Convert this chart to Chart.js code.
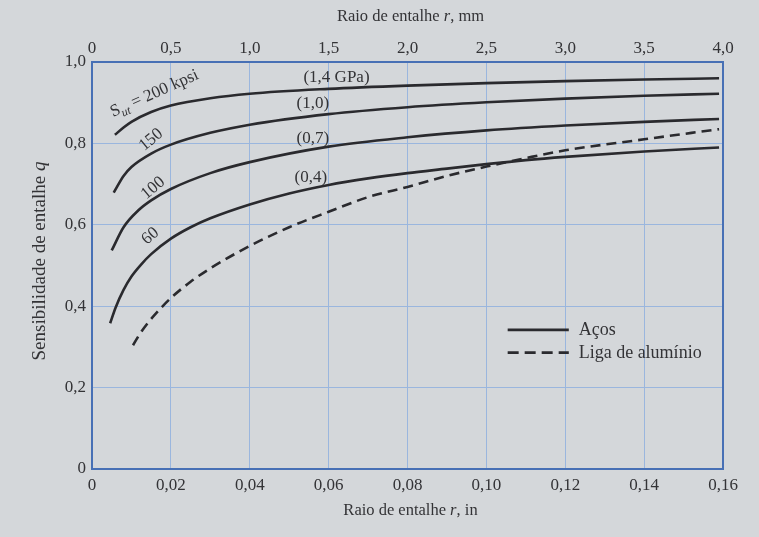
<!DOCTYPE html>
<html>
<head>
<meta charset="utf-8">
<script src="https://cdn.jsdelivr.net/npm/chart.js@4"></script>
<style>
  html, body { margin: 0; padding: 0; background: #d4d7da; }
  #wrap { width: 759px; height: 537px; position: relative; }
</style>
</head>
<body>
<div id="wrap"><canvas id="notchChart"></canvas></div>
<script>
// notch radius r (in) and notch sensitivity q
const r200 = [0.0058, 0.008, 0.010, 0.015, 0.020, 0.030, 0.040, 0.060, 0.080, 0.100, 0.120, 0.140, 0.159];
const q200 = [0.821, 0.839, 0.853, 0.877, 0.893, 0.911, 0.922, 0.934, 0.942, 0.948, 0.953, 0.957, 0.960];

const r150 = [0.0055, 0.008, 0.010, 0.015, 0.020, 0.030, 0.040, 0.060, 0.080, 0.100, 0.120, 0.140, 0.159];
const q150 = [0.679, 0.720, 0.742, 0.775, 0.797, 0.826, 0.846, 0.872, 0.889, 0.901, 0.910, 0.917, 0.922];

const r100 = [0.0050, 0.008, 0.0117, 0.015, 0.020, 0.030, 0.040, 0.060, 0.080, 0.100, 0.120, 0.140, 0.159];
const q100 = [0.537, 0.594, 0.635, 0.660, 0.688, 0.727, 0.754, 0.792, 0.815, 0.832, 0.844, 0.853, 0.860];

const r60 = [0.0046, 0.006, 0.008, 0.010, 0.0125, 0.015, 0.020, 0.025, 0.030, 0.040, 0.050, 0.060, 0.070, 0.080, 0.090, 0.100, 0.110, 0.120, 0.140, 0.159];
const q60 = [0.358, 0.397, 0.440, 0.473, 0.503, 0.528, 0.566, 0.594, 0.616, 0.650, 0.677, 0.698, 0.714, 0.727, 0.738, 0.749, 0.759, 0.767, 0.780, 0.790];

const rAl = [0.0104, 0.012, 0.014, 0.016, 0.020, 0.025, 0.030, 0.040, 0.050, 0.060, 0.070, 0.080, 0.090, 0.100, 0.110, 0.120, 0.140, 0.159];
const qAl = [0.304, 0.330, 0.357, 0.380, 0.420, 0.460, 0.493, 0.548, 0.594, 0.632, 0.668, 0.693, 0.720, 0.743, 0.764, 0.783, 0.810, 0.835];

const inTickLabels = ['0', '0,02', '0,04', '0,06', '0,08', '0,10', '0,12', '0,14', '0,16'];
const mmTickLabels = ['0', '0,5', '1,0', '1,5', '2,0', '2,5', '3,0', '3,5', '4,0'];
const qTickLabels = ['0', '0,2', '0,4', '0,6', '0,8', '1,0'];

const toPoints = (xs, ys) => xs.map((x, i) => ({ x: x, y: ys[i] }));

const INK = '#2a2a2e';
const TEXT = '#333336';
const GRID = '#9ab6de';
const FRAME = '#4770b5';
const SERIF = '"Liberation Serif", "DejaVu Serif", serif';

function curve(label, xs, ys, dashed) {
  return {
    label: label,
    data: toPoints(xs, ys),
    showLine: true,
    borderColor: INK,
    borderWidth: 2.6,
    borderDash: dashed ? [10, 6] : [],
    pointRadius: 0,
    cubicInterpolationMode: 'monotone',
    fill: false
  };
}

// text drawn on the plot: curve labels, legend, axis titles
const notes = {
  id: 'notes',
  afterDraw(chart) {
    const c = chart.ctx;
    const xs = chart.scales.x, ys = chart.scales.y;
    const px = v => xs.getPixelForValue(v);
    const py = v => ys.getPixelForValue(v);
    const a = chart.chartArea;

    // frame
    c.save();
    c.strokeStyle = FRAME;
    c.lineWidth = 2;
    c.strokeRect(a.left, a.top, a.right - a.left, a.bottom - a.top);
    c.restore();

    c.save();
    c.fillStyle = TEXT;
    c.textBaseline = 'alphabetic';

    // S_ut = 200 kpsi, rotated
    c.save();
    c.translate(px(0.0053), py(0.865));
    c.rotate(-24 * Math.PI / 180);
    c.font = '17px ' + SERIF;
    c.textAlign = 'left';
    c.fillText('S', 0, 0);
    let w = c.measureText('S').width;
    c.font = 'italic 12px ' + SERIF;
    c.fillText('ut', w, 4);
    w += c.measureText('ut').width;
    c.font = '17px ' + SERIF;
    c.fillText(' = 200 kpsi', w, 0);
    c.restore();

    // other strength labels on the curves
    const rotLabels = [['150', 0.0150, 0.809], ['100', 0.0155, 0.690], ['60', 0.0148, 0.572]];
    rotLabels.forEach(([t, x, y]) => {
      c.save();
      c.translate(px(x), py(y));
      c.rotate(-40 * Math.PI / 180);
      c.font = '17px ' + SERIF;
      c.textAlign = 'center';
      c.textBaseline = 'middle';
      c.fillText(t, 0, 0);
      c.restore();
    });

    const gpa = [['(1,4 GPa)', 0.062, 0.962], ['(1,0)', 0.056, 0.897], ['(0,7)', 0.056, 0.812], ['(0,4)', 0.0555, 0.717]];
    c.font = '17px ' + SERIF;
    c.textAlign = 'center';
    c.textBaseline = 'middle';
    gpa.forEach(([t, x, y]) => c.fillText(t, px(x), py(y)));

    // legend
    const lx0 = px(0.1054), lx1 = px(0.1209), tx = px(0.1234);
    c.strokeStyle = INK;
    c.lineWidth = 2.8;
    c.beginPath(); c.moveTo(lx0, py(0.342)); c.lineTo(lx1, py(0.342)); c.stroke();
    c.setLineDash([11, 6]);
    c.beginPath(); c.moveTo(lx0, py(0.286)); c.lineTo(lx1, py(0.286)); c.stroke();
    c.setLineDash([]);
    c.textAlign = 'left';
    c.font = '18px ' + SERIF;
    c.fillText('Aços', tx, py(0.340));
    c.fillText('Liga de alumínio', tx, py(0.284));

    // axis titles with italic symbol
    const mixed = (parts, size, cx, cy) => {
      let total = 0;
      parts.forEach(p => { c.font = p[1] + size + 'px ' + SERIF; total += c.measureText(p[0]).width; });
      let x = cx - total / 2;
      parts.forEach(p => {
        c.font = p[1] + size + 'px ' + SERIF;
        c.fillText(p[0], x, cy);
        x += c.measureText(p[0]).width;
      });
    };
    c.textAlign = 'left';
    c.textBaseline = 'middle';
    const midX = (a.left + a.right) / 2 + 3;
    mixed([['Raio de entalhe ', ''], ['r', 'italic '], [', mm', '']], 16.5, midX, 17);
    mixed([['Raio de entalhe ', ''], ['r', 'italic '], [', in', '']], 16.5, midX, 511);

    c.save();
    c.translate(40, 261);
    c.rotate(-Math.PI / 2);
    mixed([['Sensibilidade de entalhe ', ''], ['q', 'italic ']], 19, 0, 0);
    c.restore();

    c.restore();
  }
};

window.onload = () => {
  const ctx = document.getElementById('notchChart').getContext('2d');
  new Chart(ctx, {
    type: 'scatter',
    data: {
      datasets: [
        curve('200 kpsi', r200, q200, false),
        curve('150 kpsi', r150, q150, false),
        curve('100 kpsi', r100, q100, false),
        curve('60 kpsi', r60, q60, false),
        curve('Liga de alumínio', rAl, qAl, true)
      ]
    },
    options: {
      responsive: true,
      maintainAspectRatio: false,
      animation: { duration: 0 },
      layout: { padding: { right: 36, top: 0, bottom: 0, left: 0 } },
      plugins: {
        legend: { display: false },
        tooltip: { enabled: false }
      },
      scales: {
        x: {
          type: 'linear',
          position: 'bottom',
          min: 0, max: 0.16,
          afterBuildTicks: s => { s.ticks = inTickLabels.map((t, i) => ({ value: i * 0.02 })); },
          ticks: {
            color: TEXT, padding: 6,
            font: { family: SERIF, size: 17 },
            callback: (v, i) => inTickLabels[i]
          },
          grid: { color: GRID, lineWidth: 1, drawTicks: false },
          border: { color: FRAME, width: 2 },
          afterFit: s => { s.height = 68; }
        },
        x2: {
          type: 'linear',
          position: 'top',
          min: 0, max: 4,
          afterBuildTicks: s => { s.ticks = mmTickLabels.map((t, i) => ({ value: i * 0.5 })); },
          ticks: {
            color: TEXT, padding: 3,
            font: { family: SERIF, size: 17 },
            callback: (v, i) => mmTickLabels[i]
          },
          grid: { display: false, drawTicks: false },
          border: { color: FRAME, width: 2 },
          afterFit: s => { s.height = 62; }
        },
        y: {
          type: 'linear',
          min: 0, max: 1,
          afterBuildTicks: s => { s.ticks = qTickLabels.map((t, i) => ({ value: i * 0.2 })); },
          ticks: {
            color: TEXT, padding: 6,
            font: { family: SERIF, size: 17 },
            callback: (v, i) => qTickLabels[i]
          },
          grid: { color: GRID, lineWidth: 1, drawTicks: false },
          border: { color: FRAME, width: 2 },
          afterFit: s => { s.width = 92; }
        }
      }
    },
    plugins: [notes]
  });
};
</script>
</body>
</html>
